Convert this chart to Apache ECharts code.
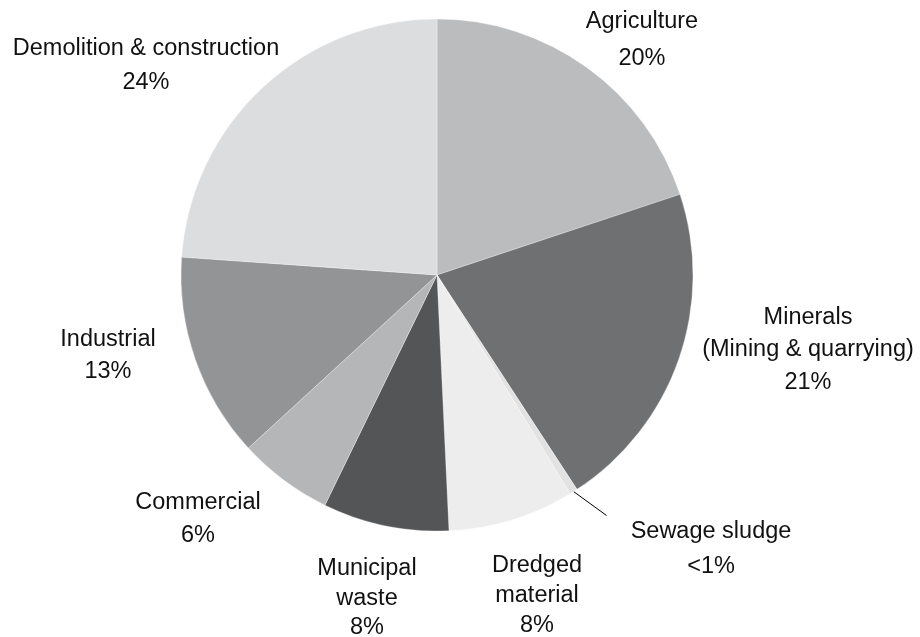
<!DOCTYPE html>
<html>
<head>
<meta charset="utf-8">
<title>Waste by source</title>
<script src="https://cdn.jsdelivr.net/npm/echarts@6/dist/echarts.min.js"></script>
<style>
  html, body { margin: 0; padding: 0; background: #ffffff; }
  #chart { width: 920px; height: 637px; }
</style>
</head>
<body>
<div id="chart"></div>
<script>
// Waste sources, clockwise from twelve o'clock
const categories = [
  'Agriculture',
  'Minerals\n(Mining & quarrying)',
  'Sewage sludge',
  'Dredged\nmaterial',
  'Municipal\nwaste',
  'Commercial',
  'Industrial',
  'Demolition & construction'
];
const shares = [20, 21, 0.5, 8, 8, 6, 13, 24];
const shareLabels = ['20%', '21%', '<1%', '8%', '8%', '6%', '13%', '24%'];

// Slice fills
const sliceColors = ['#bbbcbe', '#6f7072', '#e2e2e3', '#ededee', '#545557', '#b5b6b8', '#939496', '#dcdddf'];

// Label placement: [centre x, centre y, line height]
const labelSpots = [
  [642, 40, 37],
  [808, 350, 32.5],
  [711, 549, 35],
  [537, 596, 30],
  [367, 598.5, 29.5],
  [198, 519.5, 33],
  [108, 355.5, 31.5],
  [146, 65.5, 34.5]
];
// Offset of the leader line end from the slice edge (sewage sludge only)
const leaderOffset = [33, 24];

const chart = echarts.init(document.getElementById('chart'), null, { renderer: 'canvas' });

const data = categories.map((name, i) => ({
  name: name,
  value: shares[i],
  itemStyle: { color: sliceColors[i] },
  label: { lineHeight: labelSpots[i][2] },
  labelLine: { show: i === 2 }
}));

chart.setOption({
  animation: false,
  backgroundColor: '#ffffff',
  series: [{
    type: 'pie',
    center: [437, 275],
    radius: 256,
    startAngle: 90,
    clockwise: true,
    avoidLabelOverlap: false,
    silent: true,
    itemStyle: { borderColor: 'rgba(255,255,255,0.6)', borderWidth: 0.5 },
    label: {
      show: true,
      position: 'outside',
      formatter: (p) => p.name + '\n' + shareLabels[p.dataIndex],
      fontFamily: '"Liberation Sans", Arial, Helvetica, sans-serif',
      fontSize: 23.5,
      color: '#111111',
      align: 'center'
    },
    labelLine: {
      length: 10,
      length2: 10,
      smooth: false,
      lineStyle: { color: '#000000', width: 1 }
    },
    labelLayout: (params) => {
      const s = labelSpots[params.dataIndex];
      const out = { x: s[0], y: s[1], align: 'center', verticalAlign: 'middle' };
      if (params.dataIndex === 2 && params.labelLinePoints) {
        const p0 = params.labelLinePoints[0];
        const p2 = [p0[0] + leaderOffset[0], p0[1] + leaderOffset[1]];
        out.labelLinePoints = [p0, [(p0[0] + p2[0]) / 2, (p0[1] + p2[1]) / 2], p2];
      }
      return out;
    },
    data: data
  }]
});
</script>
</body>
</html>
